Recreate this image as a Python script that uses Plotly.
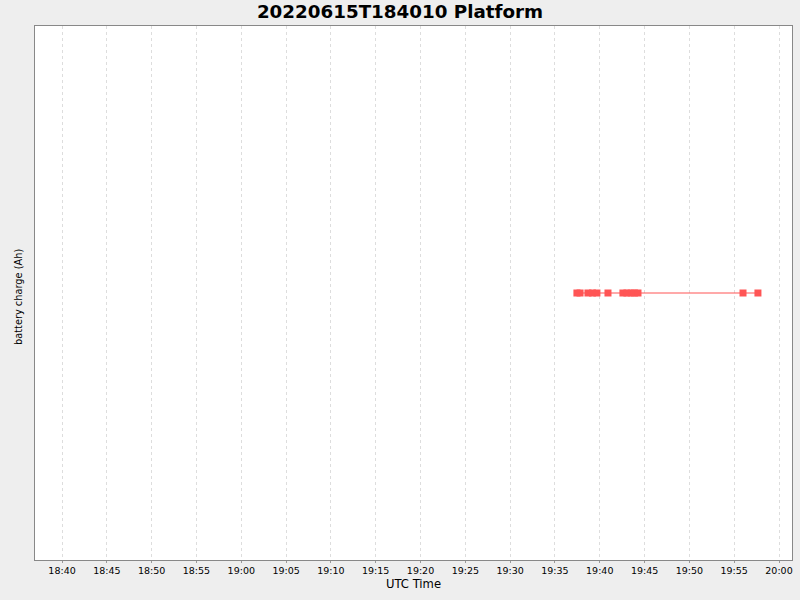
import plotly.graph_objects as go

# sample times (UTC) and battery charge readings
times = [
    "2022-06-15 19:37:27", "2022-06-15 19:37:48", "2022-06-15 19:38:41",
    "2022-06-15 19:39:11", "2022-06-15 19:39:41", "2022-06-15 19:40:55",
    "2022-06-15 19:42:35", "2022-06-15 19:43:02", "2022-06-15 19:43:29",
    "2022-06-15 19:43:52", "2022-06-15 19:44:16", "2022-06-15 19:55:59",
    "2022-06-15 19:57:39",
]
charge = [0, 0, 0, 0, 0, 0, 0, 0, 0, 0, 0, 0, 0]

x_range = ["2022-06-15 18:36:59", "2022-06-15 20:01:27"]
y_range = [-1, 1]

red = "#FF5555"

fig = go.Figure()
fig.add_trace(go.Scatter(
    x=times, y=charge, mode="lines+markers",
    line=dict(color=red, width=1.2),
    marker=dict(symbol="square", size=7, color=red),
    showlegend=False,
))

fig.update_layout(
    width=800, height=600,
    paper_bgcolor="#EEEEEE", plot_bgcolor="white",
    margin=dict(l=35, r=8, t=26, b=40, autoexpand=False),
    font=dict(family="DejaVu Sans", size=11, color="black"),
    title=dict(text="<b>20220615T184010 Platform</b>", x=0.5, xanchor="center",
               xref="container", yref="container", y=1 - 12 / 600, yanchor="middle",
               font=dict(size=18.3), automargin=False),
)
fig.update_xaxes(
    type="date", range=x_range, dtick=5 * 60 * 1000, tickformat="%H:%M",
    showgrid=True, gridcolor="#DDDDDD", griddash="3px,3px", gridwidth=1,
    ticks="outside", ticklen=2, tickcolor="#999999",
    showline=True, linecolor="#888888", mirror=True,
    tickfont=dict(size=9.5), automargin=False,
    title=dict(text="UTC Time", font=dict(size=11.6), standoff=4),
    zeroline=False,
)
fig.update_yaxes(
    range=y_range, showticklabels=False, showgrid=False, zeroline=False,
    showline=True, linecolor="#888888", mirror=True, ticks="",
    automargin=False,
)

# y title placed as an annotation so it can sit closer to the page edge
fig.add_annotation(
    text="battery charge (Ah)", textangle=-90, showarrow=False,
    xref="paper", yref="paper", x=(18 - 35) / 757, y=(560 - 297) / 534,
    xanchor="center", yanchor="middle", font=dict(size=9.8),
)

# drop the default page margin so the chart sits at the window's corner
fig.write_html("out.html", config={"displayModeBar": False},
               post_script="document.body.style.margin='0';document.body.style.background='#EEEEEE';")
